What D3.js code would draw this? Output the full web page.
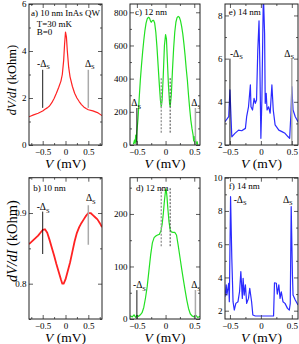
<!DOCTYPE html>
<html>
<head>
<meta charset="utf-8">
<script src="https://cdn.jsdelivr.net/npm/d3@7"></script>
<style>
  body { margin: 0; background: #fff; }
  svg { display: block; }
  text { font-family: "Liberation Serif", "Times New Roman", serif; fill: #000; }
</style>
</head>
<body>
<svg id="chart" width="299" height="344"></svg>
<script>
// [V (mV), dV/dI]
const curveA = [[-0.8,1.2],[-0.7,1.28],[-0.6,1.35],[-0.5,1.45],[-0.45,1.52],[-0.4,1.58],[-0.35,1.66],[-0.3,1.8],
  [-0.25,1.98],[-0.2,2.2],[-0.15,2.45],[-0.1,2.72],[-0.07,3.0],[-0.04,3.6],[-0.02,4.3],[0,4.8],[0.02,4.6],
  [0.04,4.0],[0.07,3.3],[0.1,2.9],[0.15,2.5],[0.2,2.2],[0.25,2.0],[0.3,1.85],[0.35,1.72],[0.4,1.62],
  [0.45,1.55],[0.5,1.5],[0.6,1.45],[0.7,1.38],[0.8,1.25]];
const curveB = [[-0.8,0.856],[-0.7,0.862],[-0.6,0.868],[-0.55,0.872],[-0.5,0.876],[-0.45,0.877],[-0.4,0.872],
  [-0.35,0.862],[-0.3,0.851],[-0.25,0.84],[-0.2,0.828],[-0.15,0.817],[-0.1,0.806],[-0.07,0.8],[-0.04,0.8],
  [0,0.806],[0.05,0.818],[0.1,0.83],[0.15,0.845],[0.2,0.86],[0.25,0.872],[0.3,0.88],[0.35,0.886],[0.4,0.891],
  [0.45,0.896],[0.5,0.9],[0.55,0.9],[0.6,0.897],[0.65,0.894],[0.7,0.891],[0.75,0.886],[0.8,0.88]];
const curveC = [[-0.56,5],[-0.54,30],[-0.53,10],[-0.52,60],[-0.51,20],[-0.5,80],[-0.48,160],[-0.46,280],
  [-0.44,390],[-0.42,480],[-0.4,560],[-0.38,630],[-0.36,690],[-0.34,735],[-0.32,760],[-0.3,770],[-0.28,765],
  [-0.26,745],[-0.25,740],[-0.23,750],[-0.21,752],[-0.19,735],[-0.17,680],[-0.15,590],[-0.13,480],[-0.11,370],
  [-0.09,270],[-0.075,230],[-0.06,270],[-0.04,420],[-0.02,600],[0,665],[0.015,640],[0.03,520],[0.05,360],
  [0.07,250],[0.08,232],[0.1,300],[0.12,450],[0.14,580],[0.16,680],[0.18,740],[0.2,768],[0.22,775],[0.24,770],
  [0.26,750],[0.28,715],[0.3,670],[0.32,610],[0.34,540],[0.36,460],[0.38,390],[0.4,300],[0.42,220],[0.44,150],
  [0.46,100],[0.48,60],[0.49,25],[0.5,50],[0.51,10],[0.52,40],[0.53,5],[0.55,20],[0.56,2]];
const curveD = [[-0.62,6],[-0.58,4],[-0.55,8],[-0.52,3],[-0.5,7],[-0.47,5],[-0.44,8],[-0.41,12],[-0.38,22],
  [-0.35,40],[-0.32,62],[-0.29,92],[-0.26,122],[-0.23,145],[-0.2,155],[-0.17,158],[-0.14,160],[-0.11,161],
  [-0.08,168],[-0.06,180],[-0.04,200],[-0.02,225],[0,245],[0.01,248],[0.025,232],[0.04,210],[0.06,185],
  [0.08,170],[0.1,166],[0.13,165],[0.16,165],[0.19,160],[0.22,140],[0.25,118],[0.28,96],[0.31,75],[0.34,55],
  [0.37,36],[0.4,20],[0.43,10],[0.46,6],[0.5,4],[0.53,7],[0.56,3],[0.6,5]];
const curveE = [[-0.58,3.08],[-0.52,3.31],[-0.5,4.55],[-0.47,2.38],[-0.42,2.54],[-0.36,2.69],[-0.31,2.66],
  [-0.25,2.77],[-0.23,3.31],[-0.2,3.77],[-0.17,4.78],[-0.16,3.77],[-0.135,3.62],[-0.11,4.16],[-0.09,3.93],
  [-0.07,4.08],[-0.05,6.4],[-0.03,7.75],[-0.016,5.6],[0,2.31],[0.016,4.08],[0.04,9.0],[0.06,7.17],[0.07,3.93],
  [0.086,4.39],[0.1,3.62],[0.125,3.77],[0.15,3.47],[0.178,4.78],[0.2,3.62],[0.23,2.93],[0.29,2.69],[0.34,2.62],
  [0.39,2.54],[0.44,2.38],[0.465,2.31],[0.486,3.47],[0.5,4.7],[0.52,3.62],[0.556,3.31],[0.6,3.08]];
const curveF = [[-0.58,2.84],[-0.56,3.55],[-0.55,2.94],[-0.52,3.65],[-0.51,2.54],[-0.49,8.86],[-0.47,5.15],
  [-0.45,2.54],[-0.43,2.04],[-0.405,2.44],[-0.37,2.54],[-0.345,3.14],[-0.324,4.35],[-0.3,2.74],[-0.287,3.95],
  [-0.27,2.94],[-0.25,3.55],[-0.23,2.44],[-0.2,2.74],[-0.18,3.35],[-0.15,2.54],[-0.13,1.74],[-0.09,1.68],
  [0.205,1.68],[0.22,3.68],[0.25,3.65],[0.265,3.0],[0.29,3.55],[0.31,2.74],[0.33,3.14],[0.357,2.54],
  [0.39,2.44],[0.43,2.14],[0.46,2.04],[0.475,2.44],[0.49,8.26],[0.51,4.15],[0.52,2.94],[0.556,2.64],[0.6,2.34]];

const xTicksWide = [-0.5, 0, 0.5];
const xMinorWide = [-0.75, -0.25, 0.25, 0.75];
const xMinorNarrow = [-0.25, 0.25];

const panels = [
  { data: curveA, color: "#ff2222", px: [29, 102], py: [4, 145], xd: [-0.8, 0.8], yd: [0, 6],
    yTicks: [0, 2, 4, 6], yMinor: [1, 3, 5], xMinor: xMinorWide, fmt: d3.format("d"),
    notes: [["a) 10 nm InAs QW", -0.756, 5.49], ["T=30 mK", -0.631, 5.02], ["B=0", -0.631, 4.66]],
    deltas: [["-Δ", -0.625, 3.33], ["Δ", 0.427, 3.33]],
    lines: [[-0.5, 3.2, 1.58, "#000"], [0.5, 3.2, 1.58, "#aaa"]], dashes: [] },
  { data: curveC, color: "#22e022", px: [130, 200], py: [4, 145], xd: [-0.62, 0.6], yd: [0, 850],
    yTicks: [0, 200, 400, 600, 800], yMinor: [100, 300, 500, 700], xMinor: xMinorNarrow, fmt: d3.format("d"),
    notes: [["c) 12 nm", -0.533, 784]],
    deltas: [["Δ", -0.597, 235], ["Δ", 0.448, 235]],
    lines: [[-0.5, 223, 0, "#000"], [0.52, 223, 0, "#aaa"]],
    dashes: [[-0.075, 403, 72, "#999"], [0.08, 403, 72, "#444"]] },
  { data: curveE, color: "#2b2bff", px: [225, 298], py: [4, 145], xd: [-0.58, 0.6], yd: [2, 8.53],
    yTicks: [2, 4, 6, 8], yMinor: [3, 5, 7], xMinor: xMinorNarrow, fmt: d3.format("d"),
    notes: [["e) 14 nm", -0.52, 8.02]],
    deltas: [["-Δ", -0.5, 6.09], ["Δ", 0.378, 6.09]],
    lines: [[-0.5, 6.0, 2, "#000"], [0.5, 6.0, 2, "#aaa"]], dashes: [] },
  { data: curveB, color: "#ff2222", px: [29, 102], py: [177.7, 319], xd: [-0.8, 0.8], yd: [0.75, 0.95],
    yTicks: [0.8, 0.9], yMinor: [0.75, 0.85, 0.95], xMinor: xMinorWide, fmt: d3.format(".1f"),
    notes: [["b) 10 nm", -0.706, 0.931]],
    deltas: [["-Δ", -0.631, 0.904], ["Δ", 0.447, 0.917]],
    lines: [[-0.5, 0.902, 0.842, "#000"], [0.5, 0.911, 0.855, "#aaa"]], dashes: [] },
  { data: curveD, color: "#22e022", px: [130, 200], py: [177.7, 319], xd: [-0.62, 0.6], yd: [0, 269],
    yTicks: [0, 100, 200], yMinor: [50, 150, 250], xMinor: xMinorNarrow, fmt: d3.format("d"),
    notes: [["d) 12 nm", -0.515, 243.7]],
    deltas: [["-Δ", -0.568, 59], ["Δ", 0.446, 59]],
    lines: [[-0.5, 55, 0, "#000"], [0.52, 55, 0, "#aaa"]],
    dashes: [[-0.075, 249, 137, "#999"], [0.08, 249, 137, "#444"]] },
  { data: curveF, color: "#2b2bff", px: [225, 298], py: [177.7, 319], xd: [-0.58, 0.6], yd: [1.5, 10],
    yTicks: [2, 4, 6, 8, 10], yMinor: [3, 5, 7, 9], xMinor: xMinorNarrow, fmt: d3.format("d"),
    notes: [["f) 14 nm", -0.52, 9.35]],
    deltas: [["-Δ", -0.44, 8.48], ["Δ", 0.357, 8.48]],
    lines: [], dashes: [] },
];

const svg = d3.select("#chart");

panels.forEach((p, i) => {
  const x = d3.scaleLinear().domain(p.xd).range(p.px);
  const y = d3.scaleLinear().domain(p.yd).range([p.py[1], p.py[0]]);
  const w = p.px[1] - p.px[0];
  const h = p.py[1] - p.py[0];
  const g = svg.append("g");

  const clipId = "clip" + i;
  svg.append("clipPath").attr("id", clipId)
    .append("rect").attr("x", p.px[0]).attr("y", p.py[0]).attr("width", w).attr("height", h);
  const inner = g.append("g").attr("clip-path", `url(#${clipId})`);

  // ticks pointing inward on all four sides
  const axes = [
    [d3.axisBottom(x).tickValues(xTicksWide).tickSize(-4), p.py[1], "x", true],
    [d3.axisTop(x).tickValues(xTicksWide).tickSize(-4), p.py[0], "x", false],
    [d3.axisBottom(x).tickValues(p.xMinor).tickSize(-2), p.py[1], "x", false],
    [d3.axisTop(x).tickValues(p.xMinor).tickSize(-2), p.py[0], "x", false],
    [d3.axisLeft(y).tickValues(p.yTicks).tickSize(-4), p.px[0], "y", true],
    [d3.axisRight(y).tickValues(p.yTicks).tickSize(-4), p.px[1], "y", false],
    [d3.axisLeft(y).tickValues(p.yMinor).tickSize(-2), p.px[0], "y", false],
    [d3.axisRight(y).tickValues(p.yMinor).tickSize(-2), p.px[1], "y", false],
  ];
  axes.forEach(([ax, pos, dir, labelled]) => {
    const a = g.append("g")
      .attr("transform", dir === "x" ? `translate(0,${pos})` : `translate(${pos},0)`)
      .call(ax.tickFormat(dir === "x" ? d3.format("") : p.fmt));
    a.select(".domain").remove();
    a.selectAll("line").attr("stroke", "#333").attr("stroke-width", 0.8);
    if (!labelled) {
      a.selectAll("text").remove();
      return;
    }
    a.selectAll("text").style("font-size", "9px").style("font-family", '"Liberation Serif", serif');
    if (dir === "y") a.selectAll("text").attr("x", -2.5);
    else a.selectAll("text").attr("y", 9.5).attr("dy", null);
  });

  // curve
  inner.append("path")
    .datum(p.data)
    .attr("fill", "none")
    .attr("stroke", p.color)
    .attr("stroke-width", i === 3 ? 1.8 : 1.2)
    .attr("stroke-linejoin", "round")
    .attr("d", d3.line().x((d) => x(d[0])).y((d) => y(d[1])));

  // gap markers
  p.lines.forEach(([v, y0, y1, c]) => {
    inner.append("line")
      .attr("x1", x(v)).attr("x2", x(v)).attr("y1", y(y0)).attr("y2", y(y1))
      .attr("stroke", c).attr("stroke-width", c === "#000" ? 0.9 : 1.5);
  });
  p.dashes.forEach(([v, y0, y1, c]) => {
    inner.append("line")
      .attr("x1", x(v)).attr("x2", x(v)).attr("y1", y(y0)).attr("y2", y(y1))
      .attr("stroke", c).attr("stroke-width", c === "#999" ? 1.4 : 1)
      .attr("stroke-dasharray", "2,1.5");
  });

  p.notes.forEach(([t, v, r]) => {
    inner.append("text").attr("x", x(v)).attr("y", y(r)).style("font-size", "9px").text(t);
  });
  p.deltas.forEach(([t, v, r]) => {
    const tx = inner.append("text").attr("x", x(v)).attr("y", y(r)).style("font-size", "9.5px");
    tx.append("tspan").text(t);
    tx.append("tspan").attr("dy", 2.5).style("font-size", "6.5px").text("S");
  });

  // frame
  g.append("rect")
    .attr("x", p.px[0]).attr("y", p.py[0]).attr("width", w).attr("height", h)
    .attr("fill", "none").attr("stroke", "#222").attr("stroke-width", 1);

  // x-axis title
  const xt = g.append("text")
    .attr("x", (p.px[0] + p.px[1]) / 2)
    .attr("y", p.py[1] + 22.5)
    .attr("text-anchor", "middle")
    .style("font-size", "13.5px");
  xt.append("tspan").style("font-style", "italic").text("V");
  xt.append("tspan").text(" (mV)");
});

// y-axis titles
[[80, 12.5, 16], [241, 14.5, 16.5]].forEach(([cy, fs, cx]) => {
  const t = svg.append("text")
    .attr("transform", `translate(${cx},${cy}) rotate(-90)`)
    .attr("text-anchor", "middle")
    .style("font-size", fs + "px");
  t.append("tspan").style("font-style", "italic").text("dV/dI");
  t.append("tspan").text(" (kOhm)");
});
</script>
</body>
</html>
